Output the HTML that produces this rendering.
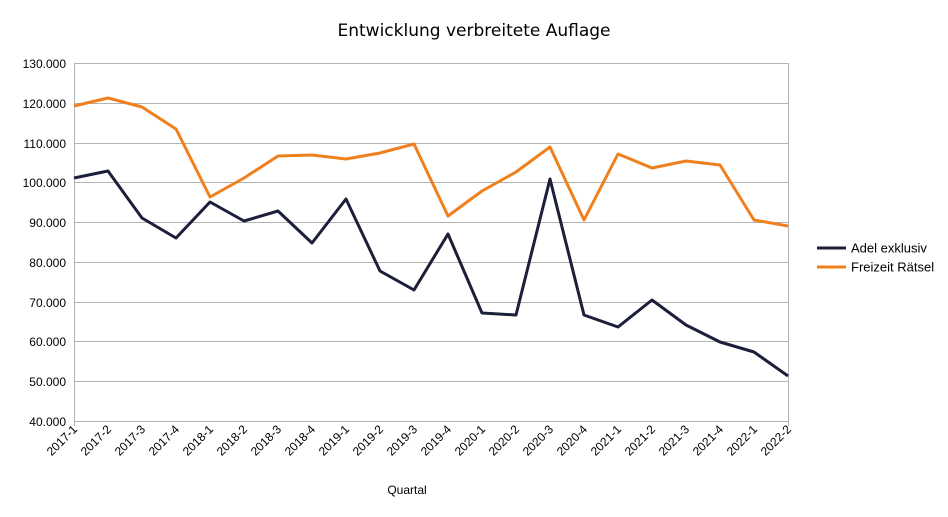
<!DOCTYPE html>
<html><head><meta charset="utf-8"><style>body{margin:0;background:#fff}svg{display:block;font-family:"Liberation Sans",sans-serif}</style></head><body>
<svg width="948" height="517" viewBox="0 0 948 517">
<rect width="948" height="517" fill="#fff"/>
<text x="474" y="36" text-anchor="middle" font-size="17" fill="#000" font-family="DejaVu Sans, sans-serif">Entwicklung verbreitete Auflage</text>
<g stroke="#b3b3b3" stroke-width="1">
<line x1="74" y1="63.5" x2="788" y2="63.5"/><line x1="74" y1="103.5" x2="788" y2="103.5"/><line x1="74" y1="143.5" x2="788" y2="143.5"/><line x1="74" y1="182.5" x2="788" y2="182.5"/><line x1="74" y1="222.5" x2="788" y2="222.5"/><line x1="74" y1="262.5" x2="788" y2="262.5"/><line x1="74" y1="302.5" x2="788" y2="302.5"/><line x1="74" y1="341.5" x2="788" y2="341.5"/><line x1="74" y1="381.5" x2="788" y2="381.5"/><line x1="74" y1="421.5" x2="788" y2="421.5"/>
<line x1="74.5" y1="63" x2="74.5" y2="426"/><line x1="788.5" y1="63" x2="788.5" y2="426"/>
</g>
<g font-size="12" fill="#000" text-anchor="end">
<text x="66" y="68">130.000</text><text x="66" y="108">120.000</text><text x="66" y="148">110.000</text><text x="66" y="187">100.000</text><text x="66" y="227">90.000</text><text x="66" y="267">80.000</text><text x="66" y="307">70.000</text><text x="66" y="346">60.000</text><text x="66" y="386">50.000</text><text x="66" y="426">40.000</text>
</g>
<polyline fill="none" stroke="#f07f1e" stroke-width="3" stroke-linejoin="round" points="74,106 108,98 142,107 176,129 210,197 244,178 278,156 312,155 346,159 380,153 414,144 448,216 482,191 516,172 550,147 584,220 618,154 652,168 686,161 720,165 754,220 788,226"/>
<polyline fill="none" stroke="#1c1f3a" stroke-width="3" stroke-linejoin="round" points="74,178 108,171 142,218 176,238 210,202 244,221 278,211 312,243 346,199 380,271 414,290 448,234 482,313 516,315 550,179 584,315 618,327 652,300 686,325 720,342 754,352 788,376"/>
<text x="407" y="494" font-size="12" text-anchor="middle">Quartal</text>
<line x1="817" y1="248" x2="846" y2="248" stroke="#1c1f3a" stroke-width="3"/>
<text x="851" y="252.5" font-size="13">Adel exklusiv</text>
<line x1="817" y1="267" x2="846" y2="267" stroke="#f07f1e" stroke-width="3"/>
<text x="851" y="271.5" font-size="13">Freizeit Rätsel</text>
<g font-size="12" text-anchor="end">
<text transform="translate(78,430) rotate(-45)">2017-1</text>
<text transform="translate(112,430) rotate(-45)">2017-2</text>
<text transform="translate(146,430) rotate(-45)">2017-3</text>
<text transform="translate(180,430) rotate(-45)">2017-4</text>
<text transform="translate(214,430) rotate(-45)">2018-1</text>
<text transform="translate(248,430) rotate(-45)">2018-2</text>
<text transform="translate(282,430) rotate(-45)">2018-3</text>
<text transform="translate(316,430) rotate(-45)">2018-4</text>
<text transform="translate(350,430) rotate(-45)">2019-1</text>
<text transform="translate(384,430) rotate(-45)">2019-2</text>
<text transform="translate(418,430) rotate(-45)">2019-3</text>
<text transform="translate(452,430) rotate(-45)">2019-4</text>
<text transform="translate(486,430) rotate(-45)">2020-1</text>
<text transform="translate(520,430) rotate(-45)">2020-2</text>
<text transform="translate(554,430) rotate(-45)">2020-3</text>
<text transform="translate(588,430) rotate(-45)">2020-4</text>
<text transform="translate(622,430) rotate(-45)">2021-1</text>
<text transform="translate(656,430) rotate(-45)">2021-2</text>
<text transform="translate(690,430) rotate(-45)">2021-3</text>
<text transform="translate(724,430) rotate(-45)">2021-4</text>
<text transform="translate(758,430) rotate(-45)">2022-1</text>
<text transform="translate(792,430) rotate(-45)">2022-2</text>
</g>
</svg>
</body></html>
